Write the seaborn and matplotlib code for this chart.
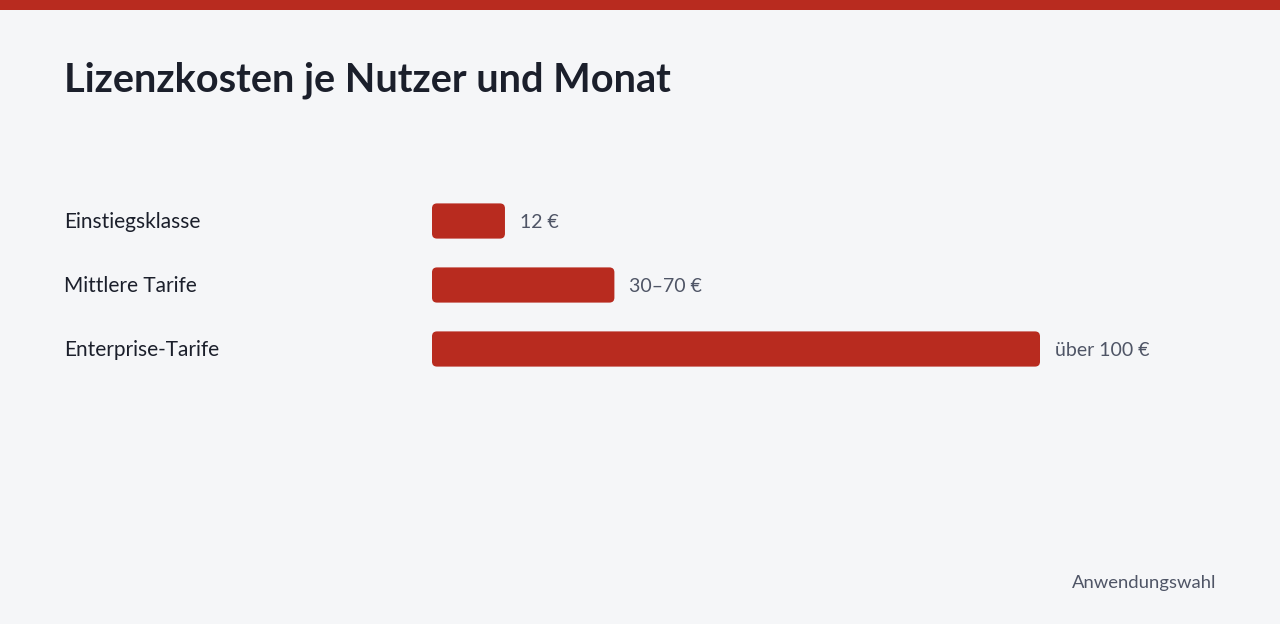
import matplotlib
matplotlib.use("Agg")
import matplotlib.pyplot as plt
from matplotlib.patches import FancyBboxPatch, Rectangle
import seaborn as sns
import pandas as pd

# data
categories = ["Einstiegsklasse", "Mittlere Tarife", "Enterprise-Tarife"]
values = [12, 30, 100]
value_labels = ["12 €", "30–70 €", "über 100 €"]

title = "Lizenzkosten je Nutzer und Monat"
footer = "Anwendungswahl"

bg = "#f5f6f8"
red = "#b82b1f"
dark = "#1b1f2b"
grey = "#4f5566"

sns.set_theme(style="white")
plt.rcParams["font.family"] = ["Lato", "DejaVu Sans"]

W, H = 1280, 624
fig = plt.figure(figsize=(W / 100, H / 100), dpi=100, facecolor=bg)

# axes placed so value 100 spans 432..1040 px and rows sit at y=220/284/348
ax = fig.add_axes([432 / W, 1 - 381 / H, 608 / W, 192 / H])
ax.set_facecolor(bg)

df = pd.DataFrame({"cat": categories, "val": values})
sns.barplot(data=df, x="val", y="cat", color=red, width=0.55, ax=ax, saturation=1)
ax.set_xlim(0, 100)
ax.set_ylim(2.5, -0.5)

# swap plain bars for rounded ones
px_x = 100 / 608
px_y = 3 / 192
for p in list(ax.patches):
    x, y, w, h = p.get_x(), p.get_y(), p.get_width(), p.get_height()
    p.remove()
    r = 5 * px_x
    ax.add_patch(FancyBboxPatch((x, y), w, h,
                                boxstyle=f"round,pad=0,rounding_size={r}",
                                mutation_aspect=px_y / px_x,
                                facecolor=red, edgecolor="none"))

for i, (v, lab) in enumerate(zip(values, value_labels)):
    ax.text(v + 15 * px_x, i + 2 * px_y, lab, va="center", ha="left",
            fontsize=14, color=grey)

ax.set_yticks([])
ax.set_xticks([])
ax.set_xlabel("")
ax.set_ylabel("")
sns.despine(ax=ax, left=True, bottom=True)

for i, c in enumerate(categories):
    fig.text(64 / W, 1 - (222 + 64 * i) / H, c, ha="left", va="center",
             fontsize=15, color=dark)

fig.add_artist(Rectangle((0, 1 - 10 / H), 1, 10 / H, transform=fig.transFigure,
                         facecolor=red, edgecolor="none"))
fig.text(64 / W, 1 - 80 / H, title, ha="left", va="center", fontsize=28.5,
         fontweight="bold", color=dark)
fig.text(1216 / W, 1 - 583 / H, footer, ha="right", va="center", fontsize=13.3,
         color=grey)

fig.savefig("out.png", dpi=100, facecolor=bg)
